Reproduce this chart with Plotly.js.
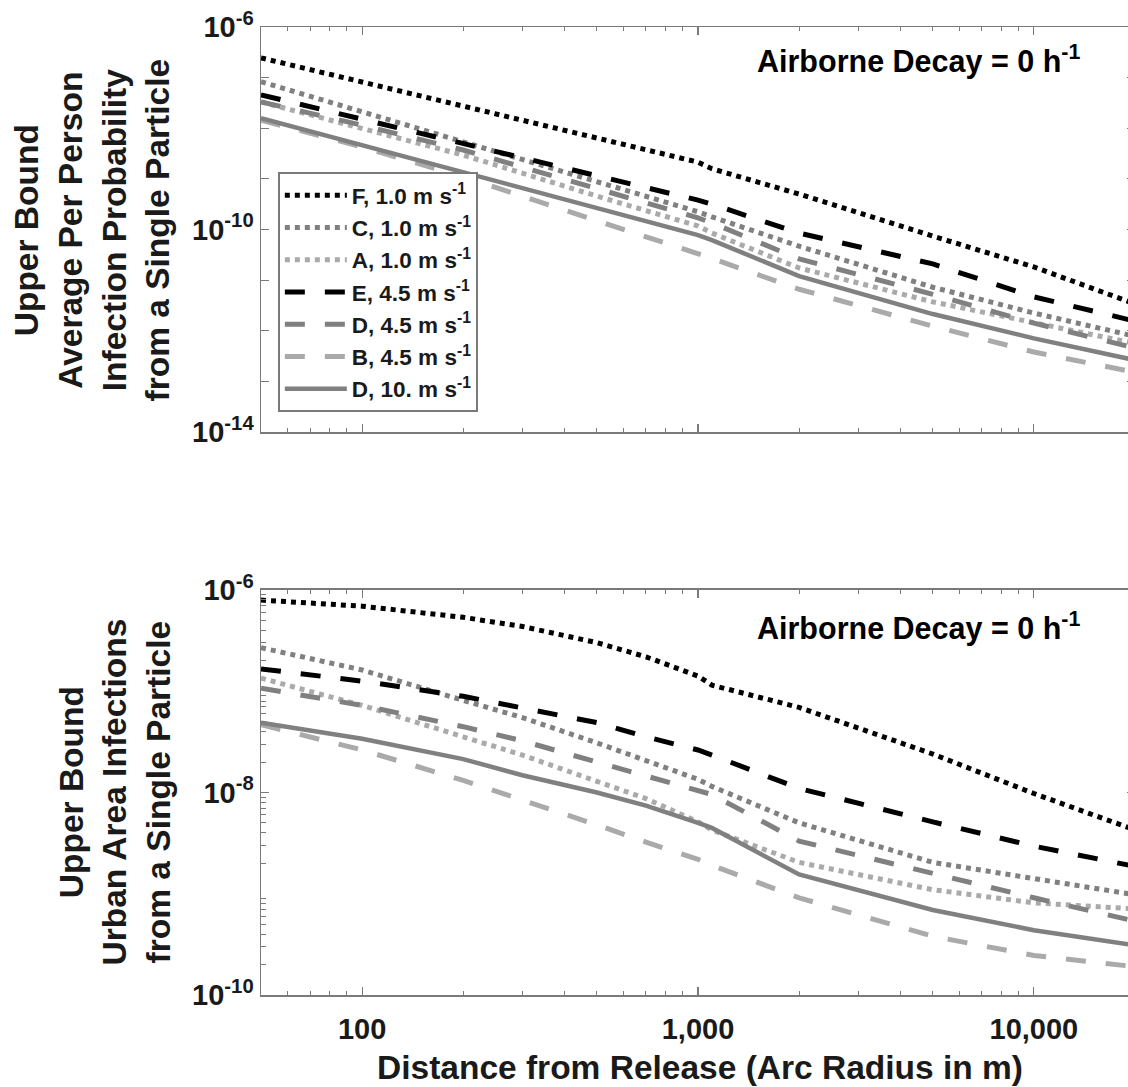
<!DOCTYPE html>
<html>
<head>
<meta charset="utf-8">
<script src="https://cdn.plot.ly/plotly-3.0.1.min.js"></script>
<style>
html,body{margin:0;padding:0;overflow:hidden;background:#fff;width:1128px;height:1087px;}
#chart{width:1140px;height:1087px;}
</style>
</head>
<body>
<div id="chart"></div>
<script>
// Distances (m)
const topX = [50, 100, 200, 500, 1000, 1100, 2000, 5000, 10000, 20000];
const botX = [50, 100, 200, 300, 500, 700, 1000, 1100, 2000, 5000, 10000, 20000];

// Series names
const seriesNames = ["F, 1.0 m s<sup>-1</sup>", "C, 1.0 m s<sup>-1</sup>", "A, 1.0 m s<sup>-1</sup>",
                     "E, 4.5 m s<sup>-1</sup>", "D, 4.5 m s<sup>-1</sup>", "B, 4.5 m s<sup>-1</sup>",
                     "D, 10. m s<sup>-1</sup>"];

// Top panel: log10 of average per person infection probability
const topF   = [-6.61, -7.09, -7.56, -8.18, -8.67, -8.80, -9.30, -10.13, -10.74, -11.47];
const topC   = [-7.08, -7.67, -8.27, -9.06, -9.65, -9.75, -10.33, -11.14, -11.65, -12.11];
const topA   = [-7.48, -8.00, -8.53, -9.34, -9.93, -10.07, -10.76, -11.43, -11.85, -12.25];
const topE   = [-7.34, -7.82, -8.29, -8.92, -9.42, -9.50, -10.07, -10.68, -11.33, -11.81];
const topD45 = [-7.48, -7.94, -8.43, -9.18, -9.77, -9.87, -10.58, -11.28, -11.85, -12.34];
const topB   = [-7.84, -8.37, -8.96, -9.83, -10.49, -10.57, -11.18, -11.91, -12.42, -12.82];
const topD10 = [-7.80, -8.33, -8.87, -9.58, -10.11, -10.21, -10.92, -11.67, -12.15, -12.58];

// Bottom panel: log10 of urban area infections
const botF   = [-6.10, -6.16, -6.27, -6.36, -6.52, -6.66, -6.85, -6.94, -7.16, -7.62, -8.01, -8.37];
const botC   = [-6.57, -6.79, -7.09, -7.26, -7.51, -7.68, -7.87, -7.94, -8.30, -8.69, -8.85, -9.01];
const botA   = [-6.87, -7.14, -7.45, -7.63, -7.89, -8.06, -8.29, -8.37, -8.69, -8.96, -9.09, -9.15];
const botE   = [-6.78, -6.90, -7.05, -7.17, -7.31, -7.45, -7.58, -7.63, -7.96, -8.29, -8.53, -8.73];
const botD45 = [-6.97, -7.14, -7.35, -7.49, -7.70, -7.84, -7.99, -8.02, -8.48, -8.80, -9.04, -9.27];
const botB   = [-7.33, -7.58, -7.88, -8.07, -8.32, -8.49, -8.66, -8.72, -9.04, -9.42, -9.61, -9.72];
const botD10 = [-7.31, -7.47, -7.67, -7.83, -8.00, -8.13, -8.30, -8.35, -8.81, -9.16, -9.36, -9.51];

// Tick labels
const xTickVals = [100, 1000, 10000];
const xTickText = ["100", "1,000", "10,000"];
const topYLabeled = [-6, -10, -14];
const topYUnlabeled = [-7, -8, -9, -11, -12, -13];
const botYLabeled = [-6, -8, -10];
const botYUnlabeled = [-7, -9];

const topSeries = [topF, topC, topA, topE, topD45, topB, topD10];
const botSeries = [botF, botC, botA, botE, botD45, botB, botD10];

const BLACK = "#000000", GRAY = "#808080", LIGHT = "#aaaaaa";
const styles = [
  {color: BLACK, dash: "5px,5px", width: 5},
  {color: GRAY,  dash: "5px,5px", width: 5},
  {color: LIGHT, dash: "5px,5px", width: 5},
  {color: BLACK, dash: "20px,20px", width: 5},
  {color: GRAY,  dash: "20px,20px", width: 5},
  {color: LIGHT, dash: "20px,20px", width: 5},
  {color: GRAY,  dash: "solid", width: 4.5}
];

const pow10 = a => a.map(v => Math.pow(10, v));
const traces = [];
topSeries.forEach((s, i) => traces.push({
  x: topX, y: pow10(s), type: "scatter", mode: "lines", name: seriesNames[i],
  legendgroup: "g" + i, line: styles[i], xaxis: "x", yaxis: "y", hoverinfo: "skip"
}));
botSeries.forEach((s, i) => traces.push({
  x: botX, y: pow10(s), type: "scatter", mode: "lines", name: seriesNames[i],
  legendgroup: "g" + i, showlegend: false, line: styles[i], xaxis: "x2", yaxis: "y2", hoverinfo: "skip"
}));

const FONT = "Liberation Sans, Arial, Helvetica, sans-serif";
const AX = "#7a7a7a";
const TXT = "#1a1a1a";

const xMinor = [];
[10, 100, 1000, 10000].forEach(d => { for (let k = 2; k <= 9; k++) xMinor.push(k * d); });
const botMinor = [];
[-7, -8, -9, -10].forEach(e => { for (let k = 2; k <= 9; k++) botMinor.push(k * Math.pow(10, e)); });

const supLabel = e => "10<sup>" + e + "</sup>";
const tickFont = {family: FONT, size: 29, color: TXT, weight: "bold"};

const xBase = {
  type: "log", range: [Math.log10(50), Math.log10(20000)],
  showline: true, linecolor: AX, linewidth: 1.5, mirror: "ticks",
  ticks: "inside", ticklen: 8, tickwidth: 1.2, tickcolor: AX,
  tickmode: "array", tickvals: xTickVals, ticktext: xTickText,
  minor: {ticks: "inside", ticklen: 4, tickwidth: 1, tickcolor: AX, tickmode: "array", tickvals: xMinor},
  showgrid: false, zeroline: false, tickfont: tickFont
};

// long ticks at unlabeled decades of the bottom panel (left side)
const shapes = botYUnlabeled.map(e => ({
  type: "line", xref: "x2 domain", yref: "y2", x0: 0, x1: 9 / 874, y0: e, y1: e,
  line: {color: AX, width: 1.2}
}));

const layout = {
  width: 1140, height: 1087,
  margin: {l: 261, r: 5, t: 27, b: 92},
  paper_bgcolor: "#fff", plot_bgcolor: "#fff",
  showlegend: true,
  xaxis: Object.assign({}, xBase, {anchor: "y", showticklabels: false}),
  xaxis2: Object.assign({}, xBase, {anchor: "y2", showticklabels: true, ticklabelstandoff: 8}),
  yaxis: {
    type: "log", range: [-14, -6], domain: [0.5816, 1], anchor: "x",
    showline: true, linecolor: AX, linewidth: 1.5, mirror: "ticks",
    ticks: "inside", ticklen: 8, tickwidth: 1.2, tickcolor: AX,
    tickmode: "array", tickvals: topYLabeled.map(e => Math.pow(10, e)),
    ticktext: topYLabeled.map(supLabel),
    minor: {ticks: "inside", ticklen: 8, tickwidth: 1.2, tickcolor: AX, tickmode: "array",
            tickvals: topYUnlabeled.map(e => Math.pow(10, e))},
    showgrid: false, zeroline: false, tickfont: tickFont
  },
  yaxis2: {
    type: "log", range: [-10, -6], domain: [0, 0.4184], anchor: "x2",
    showline: true, linecolor: AX, linewidth: 1.5, mirror: "ticks",
    ticks: "inside", ticklen: 8, tickwidth: 1.2, tickcolor: AX,
    tickmode: "array", tickvals: botYLabeled.map(e => Math.pow(10, e)),
    ticktext: botYLabeled.map(supLabel),
    minor: {ticks: "inside", ticklen: 5, tickwidth: 1, tickcolor: AX, tickmode: "array", tickvals: botMinor},
    showgrid: false, zeroline: false, tickfont: tickFont
  },
  shapes: shapes,
  legend: {
    x: 0.0195, y: 0.850, xanchor: "left", yanchor: "top",
    bgcolor: "#fff", bordercolor: AX, borderwidth: 1.8,
    font: {family: FONT, size: 22.5, color: TXT, weight: "bold"},
    itemwidth: 62, tracegroupgap: 7, traceorder: "normal"
  },
  annotations: [
    {text: "Upper Bound<br>Average Per Person<br>Infection Probability<br>from a Single Particle",
     xref: "paper", yref: "paper", x: -0.1934, y: 0.7908, xanchor: "center", yanchor: "middle",
     textangle: -90, showarrow: false, font: {family: FONT, size: 33.5, color: TXT, weight: "bold"}},
    {text: "Upper Bound<br>Urban Area Infections<br>from a Single Particle",
     xref: "paper", yref: "paper", x: -0.167, y: 0.2092, xanchor: "center", yanchor: "middle",
     textangle: -90, showarrow: false, font: {family: FONT, size: 33.5, color: TXT, weight: "bold"}},
    {text: "Distance from Release (Arc Radius in m)",
     xref: "paper", yref: "paper", x: 0.502, y: -0.0745, xanchor: "center", yanchor: "middle",
     showarrow: false, font: {family: FONT, size: 33.5, color: TXT, weight: "bold"}},
    {text: "Airborne Decay = 0 h<sup>-1</sup>",
     xref: "paper", yref: "paper", x: 0.752, y: 0.966, xanchor: "center", yanchor: "middle",
     showarrow: false, font: {family: FONT, size: 30.5, color: "#000", weight: "bold"}},
    {text: "Airborne Decay = 0 h<sup>-1</sup>",
     xref: "paper", yref: "paper", x: 0.752, y: 0.381, xanchor: "center", yanchor: "middle",
     showarrow: false, font: {family: FONT, size: 30.5, color: "#000", weight: "bold"}}
  ]
};

Plotly.newPlot("chart", traces, layout, {displayModeBar: false, staticPlot: true});
</script>
</body>
</html>
